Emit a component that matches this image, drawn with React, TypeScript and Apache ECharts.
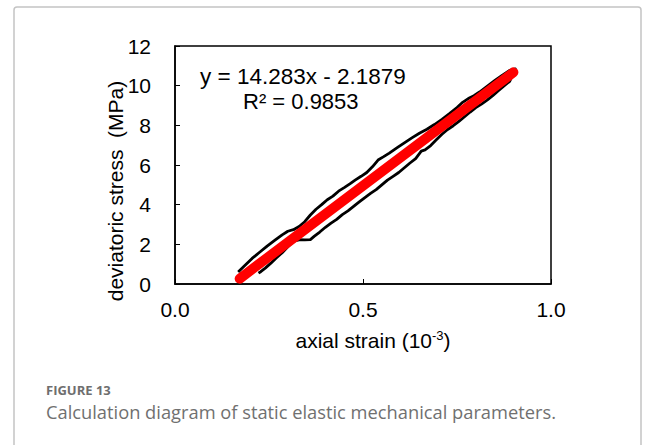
import React, { useEffect, useRef } from "react";
import * as echarts from "echarts";

const xTicks = [0, 0.5, 1.0];
const yTicks = [0, 2, 4, 6, 8, 10, 12];

// loading branch (bottom to top)
const upperBranch: [number, number][] = [
  [0.168, 0.61], [0.185, 0.92], [0.205, 1.29], [0.225, 1.6], [0.245, 1.91], [0.265, 2.2],
  [0.285, 2.48], [0.3, 2.66], [0.315, 2.74], [0.33, 2.9], [0.345, 3.14], [0.36, 3.48],
  [0.375, 3.77], [0.39, 4.0], [0.405, 4.25], [0.42, 4.43], [0.435, 4.68], [0.45, 4.86],
  [0.465, 5.05], [0.48, 5.25], [0.495, 5.43], [0.51, 5.62], [0.525, 5.91], [0.54, 6.25],
  [0.555, 6.42], [0.57, 6.6], [0.59, 6.86], [0.61, 7.12], [0.63, 7.37], [0.65, 7.6],
  [0.67, 7.8], [0.69, 8.04], [0.71, 8.3], [0.73, 8.59], [0.75, 8.9], [0.765, 9.16],
  [0.78, 9.35], [0.795, 9.49], [0.81, 9.68], [0.83, 9.97], [0.85, 10.25], [0.87, 10.52],
  [0.89, 10.77], [0.905, 10.85],
];

// unloading branch (top to bottom)
const lowerBranch: [number, number][] = [
  [0.905, 10.85], [0.89, 10.22], [0.875, 9.99], [0.86, 9.75], [0.845, 9.5], [0.83, 9.27],
  [0.815, 9.07], [0.8, 8.89], [0.785, 8.67], [0.77, 8.43], [0.755, 8.2], [0.74, 7.98],
  [0.725, 7.79], [0.71, 7.55], [0.695, 7.27], [0.68, 6.98], [0.665, 6.76], [0.655, 6.7],
  [0.64, 6.32], [0.625, 6.1], [0.61, 5.86], [0.595, 5.62], [0.58, 5.43], [0.565, 5.24],
  [0.55, 5.0], [0.535, 4.76], [0.52, 4.57], [0.505, 4.36], [0.49, 4.14], [0.475, 3.91],
  [0.46, 3.69], [0.445, 3.5], [0.43, 3.26], [0.415, 3.07], [0.4, 2.86], [0.385, 2.62],
  [0.37, 2.4], [0.36, 2.24], [0.345, 2.22], [0.33, 2.23], [0.315, 2.16], [0.3, 1.88],
  [0.285, 1.58], [0.27, 1.32], [0.255, 1.05], [0.24, 0.8], [0.228, 0.62], [0.222, 0.55],
];

// linear fit line endpoints
const fitLine: [number, number][] = [
  [0.172, 0.27],
  [0.9, 10.67],
];

const equationText = "y = 14.283x - 2.1879";
const r2Text = "R² = 0.9853";
const xTitle = "axial strain (10{sup|-3})";
const yTitle = "deviatoric stress  (MPa)";
const figLabel = "FIGURE 13";
const caption = "Calculation diagram of static elastic mechanical parameters.";

const FONT = "'Liberation Sans', Arial, sans-serif";

export default function App() {
  const ref = useRef<HTMLDivElement>(null);
  useEffect(() => {
    if (!ref.current) return;
    const chart = echarts.init(ref.current, undefined, { renderer: "svg" });
    chart.setOption({
      animation: false,
      backgroundColor: "#ffffff",
      grid: {
        left: 175,
        top: 46,
        width: 376,
        height: 238,
        show: true,
        borderColor: "#000",
        borderWidth: 1.5,
        backgroundColor: "transparent",
      },
      xAxis: {
        type: "value",
        min: xTicks[0],
        max: xTicks[xTicks.length - 1],
        interval: 0.5,
        axisLine: { show: true, lineStyle: { color: "#000", width: 1.5 } },
        axisTick: { show: true, inside: true, length: 5, lineStyle: { color: "#000", width: 1 } },
        axisLabel: {
          fontSize: 21,
          color: "#000",
          fontFamily: FONT,
          margin: 15,
          formatter: (v: number) => v.toFixed(1),
        },
        splitLine: { show: false },
      },
      yAxis: {
        type: "value",
        min: yTicks[0],
        max: yTicks[yTicks.length - 1],
        interval: 2,
        axisLine: { show: true, lineStyle: { color: "#000", width: 1.5 } },
        axisTick: { show: true, inside: true, length: 5, lineStyle: { color: "#000", width: 1 } },
        axisLabel: { fontSize: 21, color: "#000", fontFamily: FONT, margin: 24 },
        splitLine: { show: false },
      },
      series: [
        {
          type: "line",
          data: [...upperBranch, ...lowerBranch.slice(1)],
          showSymbol: false,
          symbol: "none",
          lineStyle: { color: "#000", width: 2.8, join: "round" },
          z: 2,
        },
        {
          type: "line",
          data: fitLine,
          showSymbol: false,
          symbol: "none",
          lineStyle: { color: "#ff0000", width: 10, cap: "round" },
          z: 3,
        },
      ],
      graphic: [
        {
          type: "rect",
          shape: { x: 14, y: 7, width: 627, height: 460, r: 3 },
          style: { fill: "none", stroke: "#c4c4c4", lineWidth: 1.5 },
          silent: true,
        },
        {
          type: "text",
          x: 200,
          y: 76,
          style: {
            text: equationText,
            fontSize: 22.5,
            fontFamily: FONT,
            fill: "#000",
            textAlign: "left",
            textVerticalAlign: "middle",
          },
        },
        {
          type: "text",
          x: 243,
          y: 101,
          style: {
            text: r2Text,
            fontSize: 22,
            fontFamily: FONT,
            fill: "#000",
            textAlign: "left",
            textVerticalAlign: "middle",
          },
        },
        {
          type: "text",
          x: 115,
          y: 191,
          rotation: Math.PI / 2,
          style: {
            text: yTitle,
            fontSize: 21,
            fontFamily: FONT,
            fill: "#000",
            textAlign: "center",
            textVerticalAlign: "middle",
          },
        },
        {
          type: "text",
          x: 373,
          y: 340,
          style: {
            text: xTitle,
            fontSize: 21,
            fontFamily: FONT,
            fill: "#000",
            textAlign: "center",
            textVerticalAlign: "middle",
            rich: {
              sup: { fontSize: 13, fontFamily: FONT, fill: "#000", padding: [0, 0, 9, 0] },
            },
          },
        },
        {
          type: "text",
          x: 46,
          y: 396,
          style: {
            text: figLabel,
            fontSize: 13,
            lineHeight: 13,
            fontWeight: "bold",
            fontFamily: "'Open Sans', sans-serif",
            fill: "#6e6e6e",
            textAlign: "left",
            textVerticalAlign: "bottom",
          },
        },
        {
          type: "text",
          x: 46,
          y: 401,
          style: {
            text: caption,
            fontSize: 18.3,
            lineHeight: 20,
            fontFamily: "'Open Sans', sans-serif",
            fill: "#707070",
            textAlign: "left",
            textVerticalAlign: "top",
          },
        },
      ],
    });
    return () => chart.dispose();
  }, []);
  return (
    <div
      ref={ref}
      style={{ position: "fixed", left: 0, top: 0, width: 656, height: 445 }}
    />
  );
}
